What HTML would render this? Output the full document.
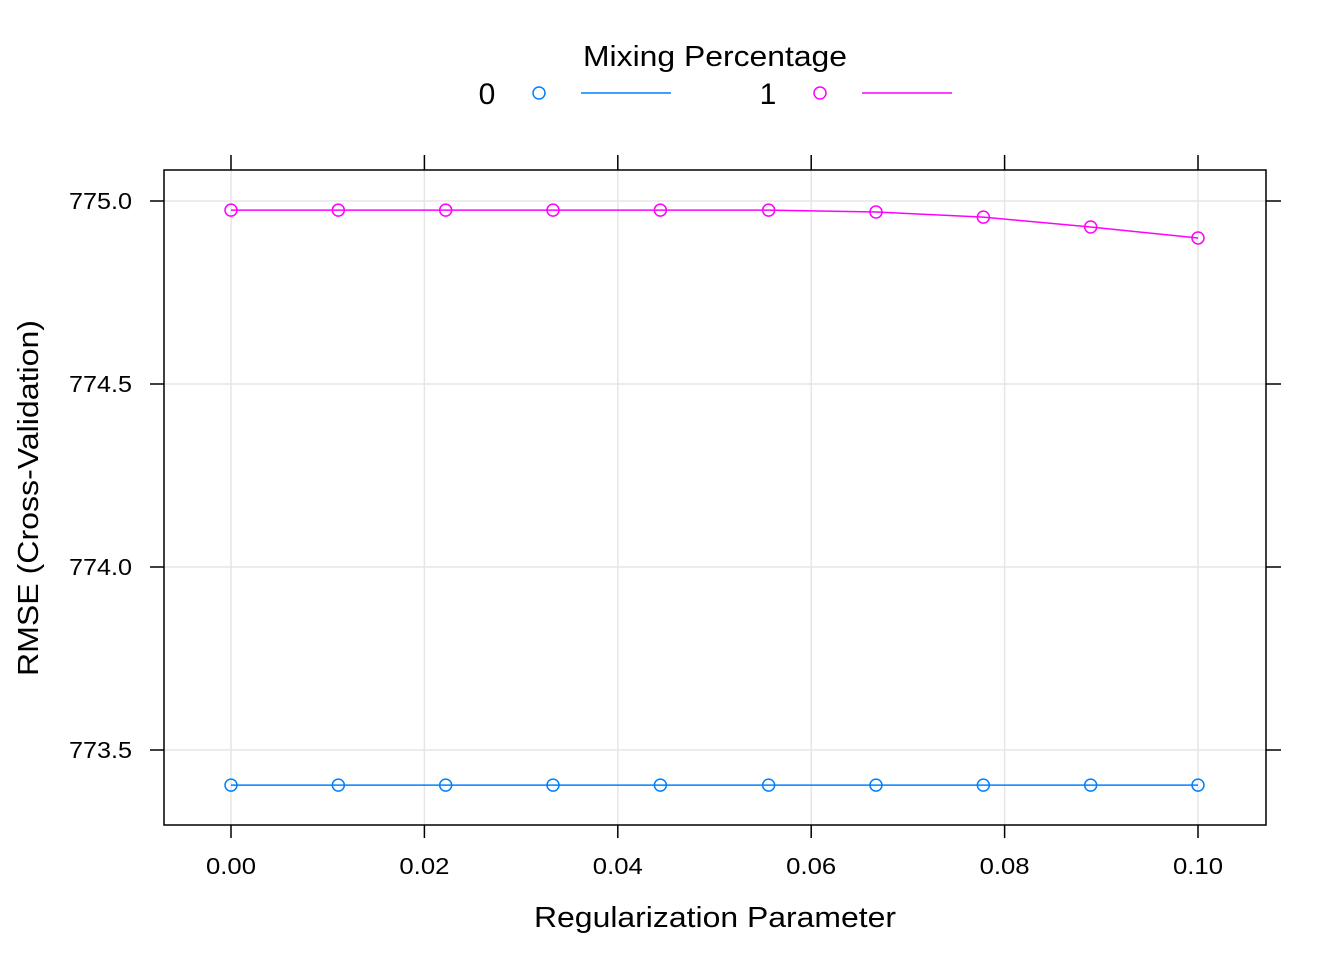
<!DOCTYPE html>
<html><head><meta charset="utf-8"><style>
body{margin:0;background:#fff;}
svg{display:block;font-family:"Liberation Sans",Arial,sans-serif;}
</style></head><body>
<svg id="chart" width="1344" height="960">
<g id="grid"></g>
<rect x="164" y="170" width="1102" height="655" fill="none" stroke="#000" stroke-width="1.5"/>
<g id="axes"></g>
<g id="series"></g>
<text x="715" y="66" font-size="29" text-anchor="middle" textLength="264" lengthAdjust="spacingAndGlyphs">Mixing Percentage</text>
<g>
<text x="487" y="104" font-size="30" text-anchor="middle">0</text>
<circle cx="539" cy="93" r="6" fill="none" stroke="#0080ff" stroke-width="1.5"/>
<line x1="581" y1="93" x2="671" y2="93" stroke="#0080ff" stroke-width="1.5"/>
</g>
<g>
<text x="768" y="104" font-size="30" text-anchor="middle">1</text>
<circle cx="820" cy="93" r="6" fill="none" stroke="#ff00ff" stroke-width="1.5"/>
<line x1="862" y1="93" x2="952" y2="93" stroke="#ff00ff" stroke-width="1.5"/>
</g>
<text x="715" y="927" font-size="29" text-anchor="middle" textLength="362" lengthAdjust="spacingAndGlyphs">Regularization Parameter</text>
<text transform="translate(38,498) rotate(-90)" font-size="29" text-anchor="middle" textLength="356" lengthAdjust="spacingAndGlyphs">RMSE (Cross-Validation)</text>
</svg>
<script>
const xValues=[0,0.0111,0.0222,0.0333,0.0444,0.0556,0.0667,0.0778,0.0889,0.1];
const series0=[773.404,773.404,773.404,773.404,773.404,773.404,773.404,773.404,773.404,773.404];
const series1=[774.975,774.975,774.975,774.975,774.975,774.975,774.970,774.956,774.929,774.899];
const xTicks=[0,0.02,0.04,0.06,0.08,0.10];
const xTickLabels=["0.00","0.02","0.04","0.06","0.08","0.10"];
const yTicks=[773.5,774.0,774.5,775.0];
const yTickLabels=["773.5","774.0","774.5","775.0"];
const NS="http://www.w3.org/2000/svg";
const sx=v=>231+v*9670;
const sy=v=>201+(775-v)*366;
function mk(tag,attrs,parent){const e=document.createElementNS(NS,tag);for(const k in attrs)e.setAttribute(k,attrs[k]);parent.appendChild(e);return e;}
const grid=document.getElementById('grid'),axes=document.getElementById('axes'),ser=document.getElementById('series');
xTicks.forEach((t,i)=>{const x=sx(t);
 const g=mk('line',{x1:x,x2:x,y1:170,y2:825,stroke:'#e6e6e6','stroke-width':1.5},grid);
 
 
 mk('line',{x1:x,x2:x,y1:825,y2:838,stroke:'#000','stroke-width':1.5},axes);
 mk('line',{x1:x,x2:x,y1:170,y2:155,stroke:'#000','stroke-width':1.5},axes);
 const tx=mk('text',{x:x,y:874,'font-size':23,'text-anchor':'middle',textLength:50,lengthAdjust:'spacingAndGlyphs'},axes);tx.textContent=xTickLabels[i];
 
 
});
yTicks.forEach((t,i)=>{const y=sy(t);
 const g=mk('line',{x1:164,x2:1266,y1:y,y2:y,stroke:'#e6e6e6','stroke-width':1.5},grid);
 
 
 mk('line',{x1:150,x2:164,y1:y,y2:y,stroke:'#000','stroke-width':1.5},axes);
 mk('line',{x1:1266,x2:1281,y1:y,y2:y,stroke:'#000','stroke-width':1.5},axes);
 const tx=mk('text',{x:132,y:y+8,'font-size':23,'text-anchor':'end',textLength:63,lengthAdjust:'spacingAndGlyphs'},axes);tx.textContent=yTickLabels[i];
 
 
});
[[series0,'#0080ff','series-0'],[series1,'#ff00ff','series-1']].forEach(([vals,col,name])=>{
 const pts=vals.map((v,i)=>sx(xValues[i])+','+sy(v)).join(' ');
 const pl=mk('polyline',{points:pts,fill:'none',stroke:col,'stroke-width':1.5},ser);
 
 
 vals.forEach((v,i)=>{const c=mk('circle',{cx:sx(xValues[i]),cy:sy(v),r:6,fill:'none',stroke:col,'stroke-width':1.5},ser);
  
  });
});
</script>
</body></html>
